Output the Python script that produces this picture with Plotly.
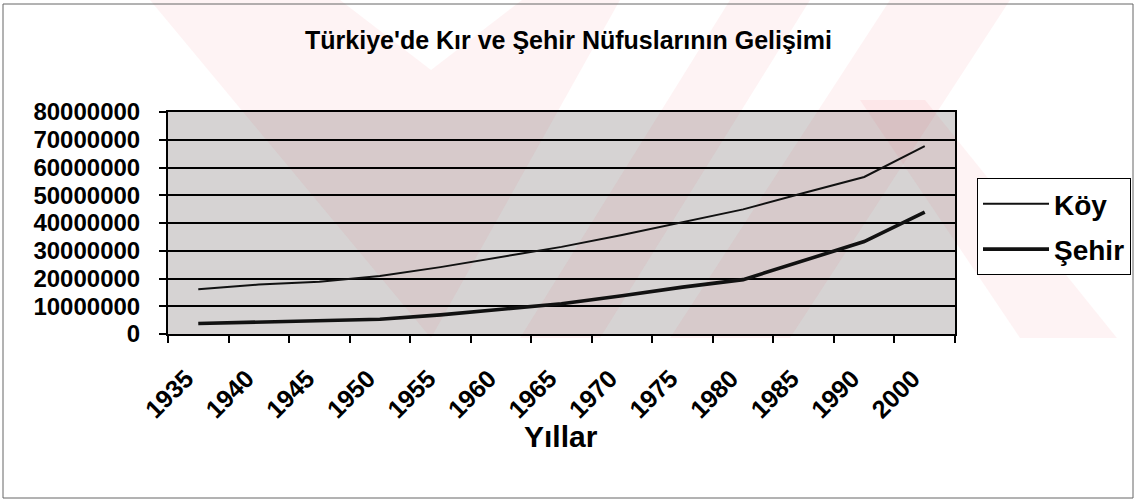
import plotly.graph_objects as go

# Population of Turkey, rural (Köy) and urban (Şehir), by census year
years = ["1935", "1940", "1945", "1950", "1955", "1960", "1965",
         "1970", "1975", "1980", "1985", "1990", "2000"]
koy = [16.1e6, 17.8e6, 18.8e6, 20.9e6, 24.1e6, 27.8e6, 31.4e6,
       35.7e6, 40.4e6, 44.9e6, 50.8e6, 56.6e6, 67.7e6]
sehir = [3.8e6, 4.3e6, 4.7e6, 5.3e6, 6.9e6, 8.9e6, 10.9e6,
         13.8e6, 16.9e6, 19.6e6, 26.6e6, 33.3e6, 43.9e6]

W, H = 1137, 502
L, R, T, B = 168, 955, 112, 334   # plot area edges in pixels
FONT = "Liberation Sans, Arial, sans-serif"


def px(x):
    return (x - L) / (R - L)


def py(y):
    return (B - y) / (B - T)


def path(points):
    return "M " + " L ".join(f"{px(x):.4f},{py(y):.4f}" for x, y in points) + " Z"


# faint red background emblem
emblem = [
    [(150, 0), (340, 0), (431, 70), (522, 0), (620, 0), (431, 338)],
    [(730, 0), (810, 0), (600, 338), (520, 338)],
    [(890, 0), (1010, 0), (790, 338), (670, 338)],
    [(860, 100), (925, 100), (1117, 338), (1020, 338)],
]

shapes = [
    dict(type="path", path=path(p), xref="paper", yref="paper",
         fillcolor="rgba(235,80,100,0.07)", line=dict(width=0), layer="below")
    for p in emblem
]
# outer frame of the chart
shapes.append(dict(type="rect", xref="paper", yref="paper",
                   x0=px(3), x1=px(1133), y0=py(4), y1=py(498),
                   line=dict(color="#666666", width=1), layer="below"))

fig = go.Figure()
fig.add_trace(go.Scatter(x=years, y=koy, name="Köy", mode="lines",
                         legendgroup="k",
                         line=dict(color="#111111", width=2)))
fig.add_trace(go.Scatter(x=years, y=sehir, name="Şehir", mode="lines",
                         legendgroup="s",
                         line=dict(color="#111111", width=3.6)))

fig.update_layout(
    width=W, height=H,
    margin=dict(l=L, r=W - R, t=T, b=H - B, autoexpand=False),
    paper_bgcolor="white",
    plot_bgcolor="#d6d3d3",
    font=dict(family=FONT, color="black"),
    title=dict(text="Türkiye'de Kır ve Şehir Nüfuslarının Gelişimi",
               x=0.5, xref="container", xanchor="center",
               y=1 - 40 / H, yref="container", yanchor="middle",
               font=dict(size=25, weight="bold", family=FONT)),
    showlegend=True,
    legend=dict(x=px(977), y=py(178), xanchor="left", yanchor="top",
                bgcolor="white", bordercolor="black", borderwidth=1,
                font=dict(size=28, weight="bold", family=FONT),
                itemwidth=66,
                tracegroupgap=6, traceorder="grouped"),
    shapes=shapes,
    annotations=[dict(text="Yıllar", xref="paper", yref="paper",
                      x=px(561), y=py(455), showarrow=False,
                      font=dict(size=30, weight="bold", family=FONT))],
)

fig.update_xaxes(type="category", range=[-0.5, 12.5],
                 tickson="boundaries", ticks="outside", ticklen=7,
                 tickcolor="black", tickwidth=1.5,
                 tickangle=-45, ticklabelstandoff=18, ticklabelshift=-12,
                 tickfont=dict(size=25, weight="bold", family=FONT),
                 showgrid=False, showline=True, linecolor="black",
                 linewidth=2, mirror=True, zeroline=False)
fig.update_yaxes(range=[0, 80e6], dtick=10e6, tickformat="d",
                 ticks="outside", ticklen=7, tickcolor="black", tickwidth=1.5,
                 ticklabelstandoff=14,
                 tickfont=dict(size=24, weight="bold", family=FONT),
                 showgrid=True, gridcolor="black", gridwidth=1.5,
                 showline=True, linecolor="black", linewidth=2, mirror=True,
                 zeroline=False)

fig.write_html("out.html")
